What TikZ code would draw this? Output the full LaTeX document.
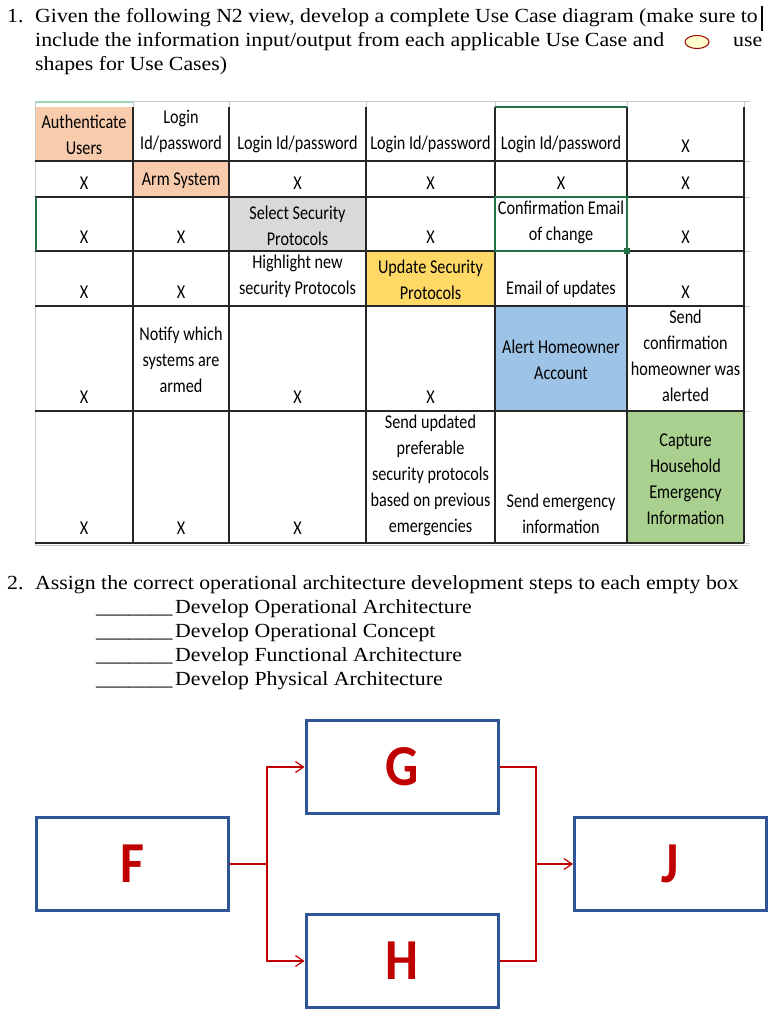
\documentclass[tikz,border=0pt]{standalone}
\usepackage{fontspec}
\setmainfont{Liberation Serif}
\newfontfamily\cellfont[FakeStretch=0.83]{Carlito}
\newfontfamily\hdrfont[FakeStretch=1.09]{Liberation Serif}
\newfontfamily\letterfont[FakeStretch=0.9]{Carlito}
\usetikzlibrary{arrows.meta,shapes.geometric}
\definecolor{peach}{HTML}{F8CBAD}
\definecolor{lgray}{HTML}{D9D9D9}
\definecolor{yel}{HTML}{FFD966}
\definecolor{lblue}{HTML}{9DC3E6}
\definecolor{lgreen}{HTML}{A9D08E}
\definecolor{xlgreen}{HTML}{217346}
\definecolor{hdrgreen}{HTML}{9FD5B7}
\definecolor{boxblue}{HTML}{2F5597}
\definecolor{dred}{HTML}{C00000}
\definecolor{ucfill}{HTML}{FFFFCC}
\definecolor{xgrid}{HTML}{C8C8C8}
\begin{document}
\begin{tikzpicture}[x=1pt,y=-1pt,
  hdr/.style={font=\hdrfont\fontsize{20}{24}\selectfont, inner sep=0pt, anchor=base west},
  cell/.style={font=\cellfont\fontsize{19.5}{26}\selectfont, align=center, inner sep=0pt},
  gridl/.style={draw=black!85, line width=1.1pt},
  xl/.style={draw=xgrid, line width=1pt},
  stepbox/.style={draw=boxblue, line width=3pt, minimum width=192pt, minimum height=93pt, inner sep=0pt,
     font=\letterfont\bfseries\fontsize{58}{58}\selectfont, text=dred},
  conn/.style={draw=dred, line width=1.2pt},
  tip/.style={-{Straight Barb[length=8pt,width=11pt]}}
]
\useasboundingbox (0,0) rectangle (782,1022);

% ---------- Question 1 ----------
\node[hdr] (n1) at (7,23) {1.};
\node[hdr] (l1) at (35,23) {Given the following N2 view, develop a complete Use Case diagram (make sure to};
\node[hdr] (l2) at (35,47) {include the information input/output from each applicable Use Case and};
\node[hdr] (l2b) at (733,47) {use};
\node[hdr] (l3) at (35,71) {shapes for Use Cases)};
\node[ellipse, draw=dred!80!black, fill=ucfill, line width=1pt, minimum width=24pt, minimum height=13pt, inner sep=0pt] (uc) at (697,42) {};
\draw[line width=1.5pt] (762,6) -- (762,31);

% ---------- table fills ----------
\fill[peach] (35,107) rectangle (133,161);
\fill[peach] (133,161) rectangle (229,197);
\fill[lgray] (229,197) rectangle (366,251);
\fill[yel] (366,251) rectangle (495,306);
\fill[lblue] (495,306) rectangle (627,411);
\fill[lgreen] (627,411) rectangle (744,543);

% excel gridlines outside
\draw[xl] (35,102) -- (750,102);
\foreach \x in {133,229,366,495,627,744} \draw[xl] (\x,102) -- (\x,107);
\draw[xl] (35,102) -- (35,545);
\foreach \y in {161,197,251,306,411,543} \draw[xl] (744,\y) -- (750,\y);
\draw[xl] (35,545) -- (750,545);

% table grid
\foreach \x in {133,229,366,495,627,744} \draw[gridl] (\x,107) -- (\x,543);
\foreach \y in {161,197,251,306,411,543} \draw[gridl] (35,\y) -- (744,\y);

% selection highlights
\draw[hdrgreen, line width=2pt] (35,102) -- (133,102);
\draw[xlgreen, line width=1.5pt] (495,107) -- (627,107);
\draw[xlgreen, line width=2pt] (36,197) -- (36,251);
\draw[xlgreen, line width=2pt] (495,197) rectangle (627,251);
\fill[xlgreen] (624,248) rectangle (630,254);

% ---------- table texts ----------
% row 1
\node[cell] (c11) at (84,135) {Authenticate\\Users};
\node[cell] (c12) at (181,131.5) {Login\\Id/password};
\node[cell] (c13) at (297.5,144) {Login Id/password};
\node[cell] (c14) at (430.5,144) {Login Id/password};
\node[cell] (c15) at (561,144) {Login Id/password};
\node[cell] (c16) at (685.5,146) {X};
% row 2
\node[cell] (c21) at (84,183) {X};
\node[cell] (c22) at (181,181) {Arm System};
\node[cell] (c23) at (297.5,183) {X};
\node[cell] (c24) at (430.5,183) {X};
\node[cell] (c25) at (561,183) {X};
\node[cell] (c26) at (685.5,183) {X};
% row 3
\node[cell] (c31) at (84,237) {X};
\node[cell] (c32) at (181,237) {X};
\node[cell] (c33) at (297.5,225.5) {Select Security\\Protocols};
\node[cell] (c34) at (430.5,237) {X};
\node[cell] (c35) at (561,222) {Confirmation Email\\of change};
\node[cell] (c36) at (685.5,237) {X};
% row 4
\node[cell] (c41) at (84,292) {X};
\node[cell] (c42) at (181,292) {X};
\node[cell] (c43) at (297.5,276) {Highlight new\\security Protocols};
\node[cell] (c44) at (430.5,280) {Update Security\\Protocols};
\node[cell] (c45) at (561,289) {Email of updates};
\node[cell] (c46) at (685.5,292) {X};
% row 5
\node[cell] (c51) at (84,397) {X};
\node[cell] (c52) at (181,360) {Notify which\\systems are\\armed};
\node[cell] (c53) at (297.5,397) {X};
\node[cell] (c54) at (430.5,397) {X};
\node[cell] (c55) at (561,360) {Alert Homeowner\\Account};
\node[cell] (c56) at (685.5,356) {Send\\confirmation\\homeowner was\\alerted};
% row 6
\node[cell] (c61) at (84,528) {X};
\node[cell] (c62) at (181,528) {X};
\node[cell] (c63) at (297.5,528) {X};
\node[cell] (c64) at (430.5,475) {Send updated\\preferable\\security protocols\\based on previous\\emergencies};
\node[cell] (c65) at (561,514) {Send emergency\\information};
\node[cell] (c66) at (685.5,479) {Capture\\Household\\Emergency\\Information};

% ---------- Question 2 ----------
\node[hdr] (n2) at (7,589) {2.};
\node[hdr] (m0) at (35,589) {Assign the correct operational architecture development steps to each empty box};
\node[hdr] (u1) at (96,613) {\_\_\_\_\_\_\_};
\node[hdr] (u2) at (96,637) {\_\_\_\_\_\_\_};
\node[hdr] (u3) at (96,661) {\_\_\_\_\_\_\_};
\node[hdr] (u4) at (96,685) {\_\_\_\_\_\_\_};
\node[hdr] (m1) at (175,613) {Develop Operational Architecture};
\node[hdr] (m2) at (175,637) {Develop Operational Concept};
\node[hdr] (m3) at (175,661) {Develop Functional Architecture};
\node[hdr] (m4) at (175,685) {Develop Physical Architecture};

% ---------- boxes ----------
\node[stepbox] (F) at (132.5,864) {F};
\node[stepbox] (G) at (402,767) {G};
\node[stepbox] (H) at (402,961) {H};
\node[stepbox] (J) at (670.5,864) {J};

\coordinate (fj) at (267,864);
\coordinate (gj) at (536,864);
\draw[conn] (F.east) -- (fj);
\draw[conn,tip] (fj) |- (G.west);
\draw[conn,tip] (fj) |- (H.west);
\draw[conn] (G.east) -| (gj);
\draw[conn] (H.east) -| (gj);
\draw[conn,tip] (gj) -- (J.west);
\end{tikzpicture}
\end{document}
